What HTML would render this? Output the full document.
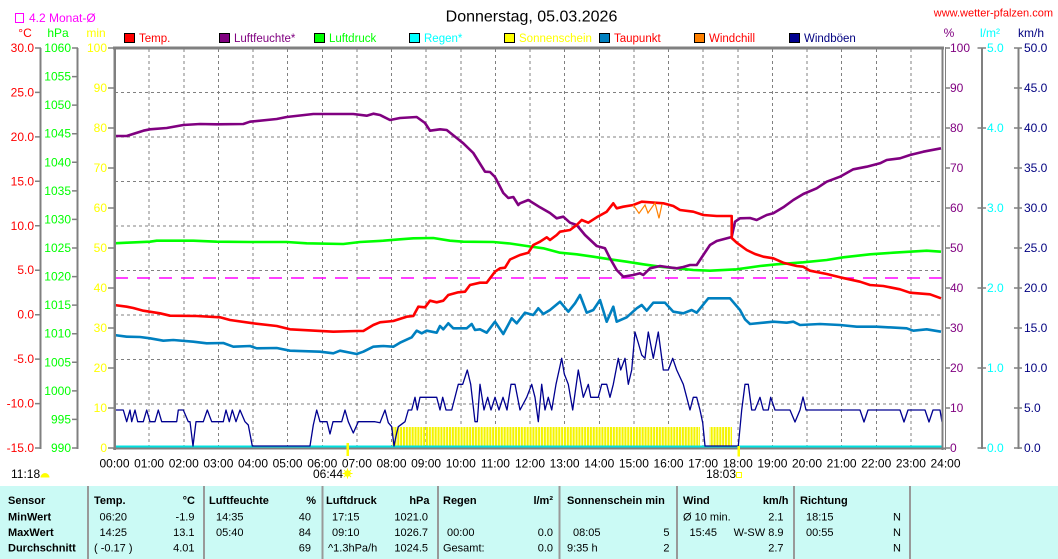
<!DOCTYPE html>
<html><head><meta charset="utf-8"><style>
html,body{margin:0;padding:0;background:#fff;}
svg{display:block;font-family:"Liberation Sans",Arial,sans-serif;}
</style></head><body>
<svg width="1058" height="559" viewBox="0 0 1058 559" xmlns="http://www.w3.org/2000/svg">
<defs>
<pattern id="sun" x="0.5" y="0" width="2.875" height="40" patternUnits="userSpaceOnUse"><rect x="0" y="0" width="2.1" height="40" fill="#f4f400"/></pattern>
</defs>
<rect width="1058" height="559" fill="#fff"/>

<!-- header -->
<rect x="15.5" y="13.5" width="8" height="9" fill="none" stroke="#ff00ff" stroke-width="1"/>
<text x="29" y="22" font-size="12" fill="#ff00ff">4.2 Monat-Ø</text>
<text x="531.5" y="21.5" font-size="16" text-anchor="middle" fill="#000">Donnerstag, 05.03.2026</text>
<text x="1053" y="16.5" font-size="11" text-anchor="end" fill="#ff0000">www.wetter-pfalzen.com</text>

<text x="25" y="37" font-size="12" text-anchor="middle" fill="#ff0000">°C</text>
<text x="58" y="37" font-size="12" text-anchor="middle" fill="#00ff00">hPa</text>
<text x="96" y="37" font-size="12" text-anchor="middle" fill="#ffff00">min</text>
<text x="949" y="37" font-size="12" text-anchor="middle" fill="#800080">%</text>
<text x="990" y="37" font-size="12" text-anchor="middle" fill="#00ffff">l/m²</text>
<text x="1031" y="37" font-size="12" text-anchor="middle" fill="#000080">km/h</text>

<!-- legend -->
<g font-size="11.5" stroke-width="1">
<rect x="124.5" y="33.5" width="10" height="9" fill="#ff0000" stroke="#000"/><text x="139" y="42" fill="#ff0000">Temp.</text>
<rect x="219.5" y="33.5" width="10" height="9" fill="#800080" stroke="#000"/><text x="234" y="42" fill="#800080">Luftfeuchte*</text>
<rect x="314.5" y="33.5" width="10" height="9" fill="#00ff00" stroke="#000"/><text x="329" y="42" fill="#00ff00">Luftdruck</text>
<rect x="409.5" y="33.5" width="10" height="9" fill="#00ffff" stroke="#000"/><text x="424" y="42" fill="#00ffff">Regen*</text>
<rect x="504.5" y="33.5" width="10" height="9" fill="#ffff00" stroke="#000"/><text x="519" y="42" fill="#ffff00">Sonnenschein</text>
<rect x="599.5" y="33.5" width="10" height="9" fill="#0080c0" stroke="#000"/><text x="614" y="42" fill="#ff0000">Taupunkt</text>
<rect x="694.5" y="33.5" width="10" height="9" fill="#ff8000" stroke="#000"/><text x="709" y="42" fill="#ff0000">Windchill</text>
<rect x="789.5" y="33.5" width="10" height="9" fill="#000090" stroke="#000"/><text x="804" y="42" fill="#000080">Windböen</text>
</g>

<!-- left axes -->
<g stroke="#808080" stroke-width="2" shape-rendering="crispEdges">
<line x1="40.5" y1="48" x2="40.5" y2="449"/>
<line x1="77.5" y1="48" x2="77.5" y2="449"/>
<line x1="982" y1="48" x2="982" y2="449"/>
<line x1="1018.5" y1="48" x2="1018.5" y2="449"/>
</g>
<g stroke="#808080" stroke-width="1.5">
<path d="M35 48H41M35 92.4H41M35 136.9H41M35 181.3H41M35 225.8H41M35 270.2H41M35 314.7H41M35 359.1H41M35 403.6H41M35 448H41"/>
<path d="M72 48H78M72 76.6H78M72 105.1H78M72 133.7H78M72 162.3H78M72 190.9H78M72 219.4H78M72 248H78M72 276.6H78M72 305.1H78M72 333.7H78M72 362.3H78M72 390.9H78M72 419.4H78M72 448H78"/>
<path d="M108 48H114M108 88H114M108 128H114M108 168H114M108 208H114M108 248H114M108 288H114M108 328H114M108 368H114M108 408H114M108 448H114"/>
<path d="M945 48H950M945 88H950M945 128H950M945 168H950M945 208H950M945 248H950M945 288H950M945 328H950M945 368H950M945 408H950M945 448H950"/>
<path d="M977.5 48H986M977.5 128H986M977.5 208H986M977.5 288H986M977.5 368H986M977.5 448H986"/>
<path d="M1014 48H1022M1014 88H1022M1014 128H1022M1014 168H1022M1014 208H1022M1014 248H1022M1014 288H1022M1014 328H1022M1014 368H1022M1014 408H1022M1014 448H1022"/>
</g>

<g font-size="12" fill="#ff0000" text-anchor="end">
<text x="34" y="52">30.0</text><text x="34" y="96.4">25.0</text><text x="34" y="140.9">20.0</text><text x="34" y="185.3">15.0</text><text x="34" y="229.8">10.0</text><text x="34" y="274.2">5.0</text><text x="34" y="318.7">0.0</text><text x="34" y="363.1">-5.0</text><text x="34" y="407.6">-10.0</text><text x="34" y="452">-15.0</text>
</g>
<g font-size="12" fill="#00ff00" text-anchor="end">
<text x="71" y="52">1060</text><text x="71" y="80.6">1055</text><text x="71" y="109.1">1050</text><text x="71" y="137.7">1045</text><text x="71" y="166.3">1040</text><text x="71" y="194.9">1035</text><text x="71" y="223.4">1030</text><text x="71" y="252">1025</text><text x="71" y="280.6">1020</text><text x="71" y="309.1">1015</text><text x="71" y="337.7">1010</text><text x="71" y="366.3">1005</text><text x="71" y="394.9">1000</text><text x="71" y="423.4">995</text><text x="71" y="452">990</text>
</g>
<g font-size="12" fill="#ffff00" text-anchor="end">
<text x="107" y="52">100</text><text x="107" y="92">90</text><text x="107" y="132">80</text><text x="107" y="172">70</text><text x="107" y="212">60</text><text x="107" y="252">50</text><text x="107" y="292">40</text><text x="107" y="332">30</text><text x="107" y="372">20</text><text x="107" y="412">10</text><text x="107" y="452">0</text>
</g>
<g font-size="12" fill="#800080">
<text x="950" y="52">100</text><text x="950" y="92">90</text><text x="950" y="132">80</text><text x="950" y="172">70</text><text x="950" y="212">60</text><text x="950" y="252">50</text><text x="950" y="292">40</text><text x="950" y="332">30</text><text x="950" y="372">20</text><text x="950" y="412">10</text><text x="950" y="452">0</text>
</g>
<g font-size="12" fill="#00ffff">
<text x="987" y="52">5.0</text><text x="987" y="132">4.0</text><text x="987" y="212">3.0</text><text x="987" y="292">2.0</text><text x="987" y="372">1.0</text><text x="987" y="452">0.0</text>
</g>
<g font-size="12" fill="#000080">
<text x="1024" y="52">50.0</text><text x="1024" y="92">45.0</text><text x="1024" y="132">40.0</text><text x="1024" y="172">35.0</text><text x="1024" y="212">30.0</text><text x="1024" y="252">25.0</text><text x="1024" y="292">20.0</text><text x="1024" y="332">15.0</text><text x="1024" y="372">10.0</text><text x="1024" y="412">5.0</text><text x="1024" y="452">0.0</text>
</g>

<!-- grid -->
<g stroke="#808080" stroke-width="1" stroke-dasharray="3,3" shape-rendering="crispEdges">
<path d="M149.1 49V448M183.75 49V448M218.4 49V448M253 49V448M287.6 49V448M322.25 49V448M356.9 49V448M391.5 49V448M426.1 49V448M460.75 49V448M495.4 49V448M530 49V448M564.6 49V448M599.25 49V448M633.9 49V448M668.5 49V448M703.1 49V448M737.75 49V448M772.4 49V448M807 49V448M841.6 49V448M876.25 49V448M910.9 49V448"/>
<path d="M115 92.5H942M115 137H942M115 181.5H942M115 226H942M115 270.5H942M115 315H942M115 359.5H942M115 404H942"/>
</g>

<!-- magenta monthly avg -->
<line x1="115" y1="278" x2="942" y2="278" stroke="#ff00ff" stroke-width="1.5" stroke-dasharray="13,9"/>

<!-- sunshine -->
<rect x="392.5" y="427" width="307.5" height="19" fill="url(#sun)"/>
<rect x="709.5" y="427" width="22.5" height="19" fill="url(#sun)"/>

<!-- rain zero line -->
<line x1="115" y1="446.5" x2="942" y2="446.5" stroke="#00e0e0" stroke-width="2"/>

<!-- wind gusts -->
<polyline fill="none" stroke="#000090" stroke-width="1.3" stroke-linejoin="round" points="114,410 123.3,410 126.7,421.7 130,410 131.7,421.7 135,410 137.7,421.7 143.3,421.7 146.7,410 150,421.7 155,421.7 158.3,410 161.7,421.7 176.7,421.7 178.3,410 183.3,410 188.3,421.7 190,421.7 193,446 196,421.7 203.3,421.7 207.3,410 211.7,421.7 223.3,421.7 226,410 229.3,421.7 232.3,410 236,421.7 240,410 245,421.7 248.3,425 252.3,446 310,446 313.3,425 316.7,410 320,421.7 327,421.7 330,434 333,421.7 341.7,421.7 345,410 348.3,421.7 353.3,433 358.3,421.7 375,421.7 380,422.7 385,410 388.3,422.7 391.7,426.7 394,446 396.7,433 398.3,426.7 405,421.7 408.3,410 411.7,410 415,397.3 417.3,410 420,397.3 436.7,397.3 440,410 442.7,397.3 446,410 451.7,410 458.3,384.3 462.7,384.3 467.3,370 470.7,384.3 475,421.7 477.3,421.7 480,384.3 484,410 487.7,397.3 491,410 495,397.3 499,410 503,397.3 507,410 511,384.3 515,384.3 520,410 526.7,397.3 531.7,384.3 535,397.3 538.3,421.7 541.7,384.3 545,410 548.3,397.3 551.7,410 556,384.3 561.7,358.3 564.3,374 568.3,384.3 572.7,410 578.3,370 583.3,397.3 588.3,384.3 590.7,397.3 598.3,397.3 601.7,384.3 606.7,384.3 610,397.3 613.3,384.3 618.3,358.3 620.7,370 625,358.3 628.3,384.3 631.7,370 635,332 638.3,343 641.7,355 645,358.3 648.3,332 653.3,358.3 658.3,332 663.3,370 668.3,370 672.7,358.3 676.7,370 683.3,384.3 686.7,397.3 690,410 693.3,397.3 696.7,397.3 700,410 702.7,422.7 705,446 738.3,446 741.7,410 745,384.3 748.3,384.3 751.7,410 755,410 760,397.3 763.3,410 768.3,410 770.7,397.3 775,410 790,410 795,422 800,410 803,397 806,410 860,410 864,422 868,410 900,410 904,422 908,410 925,410 929,422 933,410 940,410 942,422"/>

<!-- dew point -->
<polyline fill="none" stroke="#0080c0" stroke-width="2.6" stroke-linejoin="round" points="114,335 126.7,336.7 140,337 150,338.3 163.3,340.7 173.3,340 193.3,341.7 206.7,343.3 223.3,343 233.3,346.7 250,346 256.7,348.3 276.7,348 290,350.7 320,351.7 333.3,353.3 340,350.7 356.7,354 363.3,351.7 373.3,346.7 383.3,346 393.3,346.7 400,342.7 411.7,337.3 416.7,330.7 421.7,333.3 426.7,330.7 436.7,332.7 440,326 443.3,329.3 448.3,323.3 453.3,328.3 466.7,328.3 471.7,324 475,330 480,329.3 486.7,332.7 495,321.7 503.3,334 511.7,318.3 516.7,323.3 525,312.7 533.3,315 538.3,308.3 543.3,314 550,310 560,301.7 568.3,311.7 575,303.3 580,295 586.7,312.7 593.3,310 600,300 606.7,321.7 613.3,306.7 616.7,321.7 626.7,317.3 636.7,308.3 641.7,305 646.7,310.7 653.3,302.7 665,302.7 673.3,311.7 683.3,313.3 691.7,310 696.7,312.7 708.3,298.3 730,298.3 740,310 745,319.3 750,324 763.3,322.7 773.3,321.7 786.7,322.7 793.3,321.7 800,325 820,324 840,325 856.7,326.7 876.7,326.7 906.7,328.3 913.3,330.7 926.7,329.3 941,331.7"/>

<!-- pressure -->
<polyline fill="none" stroke="#00ff00" stroke-width="2.6" stroke-linejoin="round" points="114,243.3 126.7,242.7 150,241.7 156.7,240.7 193.3,240.7 216.7,241.7 250,242 286.7,242 306.7,243.3 343.3,244 360,242 383.3,240.7 400,239.3 413.3,238.3 433.3,238 450,240.7 463.3,241.7 493.3,242 510,243.5 526.7,246 543.3,248.3 560,252.7 576.7,254.3 593.3,256.7 610,259.3 626.7,261.7 643.3,264.3 660,266.7 676.7,268.3 693.3,270 710,270.7 736.7,269.3 760,266 776.7,264.3 803.3,262.3 826.7,260 843.3,257.3 870,254.3 893.3,252.7 910,251.7 926.7,250.7 941,251.7"/>

<!-- humidity -->
<polyline fill="none" stroke="#800080" stroke-width="2.6" stroke-linejoin="round" points="114,136 126.7,136 143.3,130.7 150,129.3 166.7,128 183.3,125 200,124 216.7,124.3 243.3,124 250,121.7 276.7,119 286.7,117 313.3,114 353.3,114 366.7,115.7 373.3,113.7 380,115 390,120 400,118 416.7,117 425,123 430,130.7 440,129.3 446.7,130 456.7,138 463.3,143.3 473.3,153 485,171.7 490,172 495,177 503.3,193 508.3,198 513.3,197 518.3,205 520,203.3 528.3,200 540,207.3 550,213 556.7,218.3 563.3,216.7 570,222.7 576.7,225 585,235 596.7,246 605,248.3 610,258.3 616.7,270 623.3,276.7 633.3,275 640,273.3 643.3,275 650,268.3 660,266 666.7,267 676.7,268.3 683.3,267 690,265 696.7,265 703.3,255 710,245 716.7,241 731.7,237 735,221.7 740,218.3 750,218 756.7,220 766.7,215 773.3,213.3 783.3,207.3 793.3,200 803.3,194 816.7,188.3 826.7,181.7 840,176.7 853.3,169.3 866.7,166.7 880,163.3 886.7,160 900,158.3 910,155 923.3,151.7 941,148.3"/>

<!-- temperature -->
<polyline fill="none" stroke="#ff0000" stroke-width="2.6" stroke-linejoin="round" points="114,305 126.7,306.7 133.3,308 143.3,310.7 160,313.3 170,315.7 196.7,316 220,317.3 230,320 253.3,323.3 276.7,326 290,329.3 333.3,331.7 356.7,331 363.3,331 373.3,325 380,322.3 393.3,321 406.7,316.7 413.3,316 418.3,306.7 425,307.3 430,300.7 436.7,302.3 443.3,300.7 448.3,295 458.3,292.3 465,291.7 470,285 480,282.7 486.7,282.7 495,271.7 500,268.3 505,267.7 510,259.5 520,255 528.3,252.7 533.3,245 540,241.7 546.7,237.3 550,240 556.7,235 560,231.7 570,230 576.7,225 581.7,220 588.3,222.7 596.7,217.3 606.7,211.7 613.3,203.3 616.7,208.3 623.3,206.7 633.3,205 641.7,201.7 663.3,203.3 673.3,206 680,210 693.3,211.7 703.3,215 716.7,216 731.7,216 731.7,238 736.7,242.7 746.7,250 755,254 763.3,256.7 773.3,258.3 783.3,262.7 796.7,266 803.3,266.7 810,270.7 826.7,274 840,277.3 860,281.7 870,285 883.3,286 900,289.3 910,292.7 930,294.3 941,298.3"/>

<!-- windchill -->
<polyline fill="none" stroke="#ff8000" stroke-width="1.2" points="633.3,205 639,213.3 645,205 648,213 655,203 659,218.3 662,204"/>

<!-- plot frame -->
<g stroke="#808080" shape-rendering="crispEdges">
<line x1="113" y1="48" x2="944" y2="48" stroke-width="3"/>
<line x1="114.5" y1="47" x2="114.5" y2="450" stroke-width="2.5"/>
<line x1="942.5" y1="47" x2="942.5" y2="450" stroke-width="2"/>
<line x1="945.5" y1="47" x2="945.5" y2="450" stroke-width="1"/>
<line x1="113" y1="448.5" x2="946" y2="448.5" stroke-width="2"/>
</g>

<!-- sunrise / sunset marks -->
<rect x="346.5" y="443" width="2.5" height="13" fill="#ffff00"/>
<rect x="737.5" y="446" width="2.5" height="10.5" fill="#ffff00"/>

<!-- x labels -->
<g font-size="12" fill="#000" text-anchor="middle">
<text x="114.5" y="467.5">00:00</text><text x="149.1" y="467.5">01:00</text><text x="183.75" y="467.5">02:00</text><text x="218.4" y="467.5">03:00</text><text x="253" y="467.5">04:00</text><text x="287.6" y="467.5">05:00</text><text x="322.25" y="467.5">06:00</text><text x="356.9" y="467.5">07:00</text><text x="391.5" y="467.5">08:00</text><text x="426.1" y="467.5">09:00</text><text x="460.75" y="467.5">10:00</text><text x="495.4" y="467.5">11:00</text><text x="530" y="467.5">12:00</text><text x="564.6" y="467.5">13:00</text><text x="599.25" y="467.5">14:00</text><text x="633.9" y="467.5">15:00</text><text x="668.5" y="467.5">16:00</text><text x="703.1" y="467.5">17:00</text><text x="737.75" y="467.5">18:00</text><text x="772.4" y="467.5">19:00</text><text x="807" y="467.5">20:00</text><text x="841.6" y="467.5">21:00</text><text x="876.25" y="467.5">22:00</text><text x="910.9" y="467.5">23:00</text><text x="945.5" y="467.5">24:00</text>
</g>
<g font-size="12" fill="#000">
<text x="11" y="478">11:18</text>
<text x="313" y="478">06:44</text>
<text x="706" y="478">18:03</text>
</g>
<path d="M40.5 477.5 A4.5 4.5 0 0 1 49.5 477.5 Z" fill="#ffff00"/>
<circle cx="347.5" cy="473.5" r="3.2" fill="#ffff00"/>
<g stroke="#ffff00" stroke-width="1"><path d="M342.5 473.5H352.5M347.5 468.5V478.5M344 470L351 477M351 470L344 477"/></g>
<rect x="736.5" y="472.5" width="5" height="5" fill="none" stroke="#ffff00" stroke-width="1"/>

<!-- table -->
<rect x="0" y="486" width="1058" height="73" fill="#cbfaf5"/>
<g stroke="#999" stroke-width="1.6" shape-rendering="crispEdges">
<path d="M88 486V559M204 486V559M322.5 486V559M438 486V559M559.5 486V559M677 486V559M794 486V559M910 486V559"/>
</g>
<g font-size="11" fill="#000" font-weight="bold">
<text x="8" y="504">Sensor</text>
<text x="8" y="520.5">MinWert</text>
<text x="8" y="536">MaxWert</text>
<text x="8" y="551.5">Durchschnitt</text>
<text x="94" y="504">Temp.</text>
<text x="195" y="504" text-anchor="end">°C</text>
<text x="209" y="504">Luftfeuchte</text>
<text x="316" y="504" text-anchor="end">%</text>
<text x="326" y="504">Luftdruck</text>
<text x="429.5" y="504" text-anchor="end">hPa</text>
<text x="443" y="504">Regen</text>
<text x="553" y="504" text-anchor="end">l/m²</text>
<text x="567" y="504">Sonnenschein min</text>
<text x="683" y="504">Wind</text>
<text x="788.5" y="504" text-anchor="end">km/h</text>
<text x="800" y="504">Richtung</text>
</g>
<g font-size="11" fill="#000">
<text x="99.5" y="520.5">06:20</text>
<text x="194.5" y="520.5" text-anchor="end">-1.9</text>
<text x="216" y="520.5">14:35</text>
<text x="311" y="520.5" text-anchor="end">40</text>
<text x="332" y="520.5">17:15</text>
<text x="428" y="520.5" text-anchor="end">1021.0</text>
<text x="683" y="520.5">Ø 10 min.</text>
<text x="783.5" y="520.5" text-anchor="end">2.1</text>
<text x="806" y="520.5">18:15</text>
<text x="901" y="520.5" text-anchor="end">N</text>

<text x="99.5" y="536">14:25</text>
<text x="194.5" y="536" text-anchor="end">13.1</text>
<text x="216" y="536">05:40</text>
<text x="311" y="536" text-anchor="end">84</text>
<text x="332" y="536">09:10</text>
<text x="428" y="536" text-anchor="end">1026.7</text>
<text x="447" y="536">00:00</text>
<text x="553" y="536" text-anchor="end">0.0</text>
<text x="573" y="536">08:05</text>
<text x="669.5" y="536" text-anchor="end">5</text>
<text x="689.5" y="536">15:45</text>
<text x="783.5" y="536" text-anchor="end">W-SW 8.9</text>
<text x="806" y="536">00:55</text>
<text x="901" y="536" text-anchor="end">N</text>

<text x="94" y="551.5">( -0.17 )</text>
<text x="194.5" y="551.5" text-anchor="end">4.01</text>
<text x="311" y="551.5" text-anchor="end">69</text>
<text x="328" y="551.5">^1.3hPa/h</text>
<text x="428" y="551.5" text-anchor="end">1024.5</text>
<text x="443" y="551.5">Gesamt:</text>
<text x="553" y="551.5" text-anchor="end">0.0</text>
<text x="567" y="551.5">9:35 h</text>
<text x="669.5" y="551.5" text-anchor="end">2</text>
<text x="783.5" y="551.5" text-anchor="end">2.7</text>
<text x="901" y="551.5" text-anchor="end">N</text>
</g>
</svg>
</body></html>
